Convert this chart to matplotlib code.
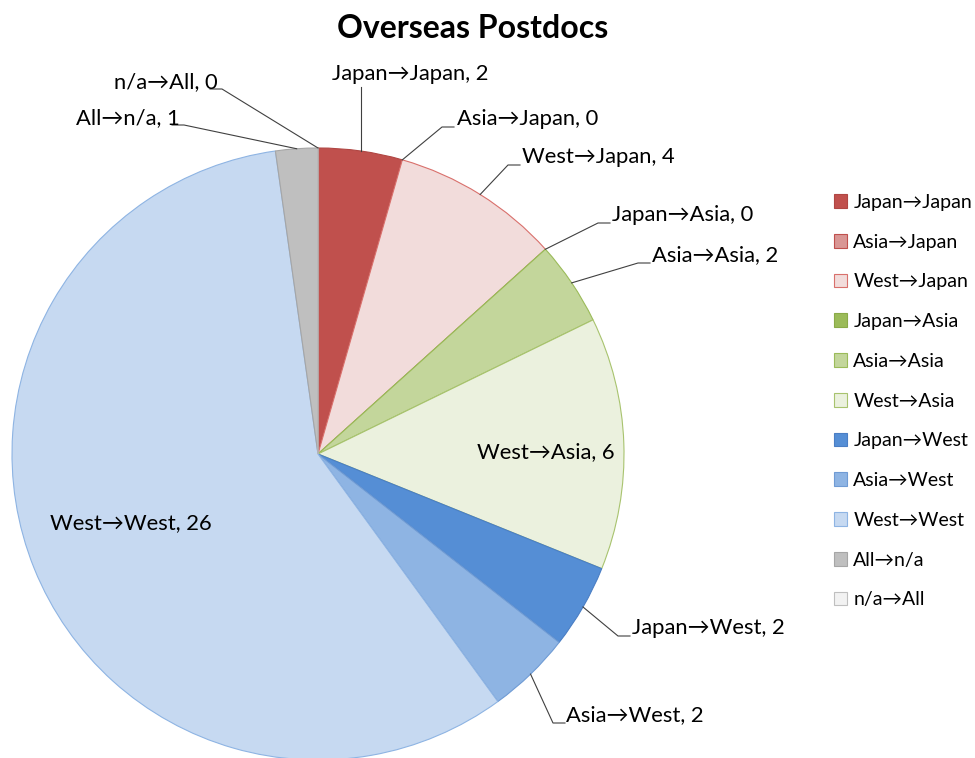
import matplotlib
matplotlib.use("Agg")
import matplotlib.pyplot as plt
import numpy as np

plt.rcParams['font.family'] = ['Lato', 'DejaVu Sans']

categories = ["Japan→Japan", "Asia→Japan", "West→Japan", "Japan→Asia", "Asia→Asia",
              "West→Asia", "Japan→West", "Asia→West", "West→West", "All→n/a", "n/a→All"]
values = [2, 0, 4, 0, 2, 6, 2, 2, 26, 1, 0]
colors = ["#C0504D", "#D99694", "#F2DCDB", "#9BBB59", "#C3D69B", "#EBF1DE",
          "#558ED5", "#8EB4E3", "#C6D9F1", "#BFBFBF", "#F2F2F2"]
edges = ["#B04643", "#C0504D", "#D9706C", "#8AAA48", "#9BBB59", "#A8C36E",
         "#4A7EC4", "#6F9BD4", "#8EB4E3", "#A6A6A6", "#BFBFBF"]

W, H = 975, 758
fig = plt.figure(figsize=(W / 100, H / 100), dpi=100)
ax = fig.add_axes([0, 0, 1, 1])

cx, cy, r = 318, H - 454, 306
wedges, _ = ax.pie(values, colors=colors, startangle=90, counterclock=False,
                   center=(cx, cy), radius=r, frame=True,
                   wedgeprops=dict(linewidth=0.8))
for w, ec in zip(wedges, edges):
    w.set_edgecolor(ec)
ax.set_xlim(0, W)
ax.set_ylim(0, H)
ax.set_aspect('equal')
ax.axis('off')

fs = 15.8
# label placements (pixel coords, top-left origin): (text x, text y, ha, elbow x)
label_pos = {
    0: (410, 74, 'center', None),
    1: (457, 119, 'left', 442),
    2: (522, 157, 'left', 508),
    3: (612, 215, 'left', 598),
    4: (652, 255, 'left', 638),
    5: (546, 452, 'center', 'inside'),
    6: (632, 628, 'left', 618),
    7: (566, 715, 'left', 553),
    8: (131, 523, 'center', 'inside'),
    9: (180, 118, 'right', 184),
    10: (218, 82, 'right', 222),
}
total = sum(values)
cum = np.cumsum([0] + values)
lc = '#404040'
for i, (name, v) in enumerate(zip(categories, values)):
    tx, ty, ha, ex = label_pos[i]
    ax.text(tx, H - ty, f"{name}, {v}", fontsize=fs, ha=ha, va='center', color='#000000')
    if ex == 'inside':
        continue
    mid = (cum[i] + cum[i + 1]) / 2 / total * 2 * np.pi
    px = cx + r * np.sin(mid)
    py = cy + r * np.cos(mid)
    if ex is None:
        ax.plot([px, px], [py, H - ty - 13], color=lc, lw=0.8)
    elif i in (9, 10):
        ly = H - ty - 7
        ax.plot([px, ex, ex - 12], [py, ly, ly], color=lc, lw=0.8)
    else:
        ly = H - ty - 8
        ax.plot([px, ex, ex + 12], [py, ly, ly], color=lc, lw=0.8)

ax.text(473, H - 29, "Overseas Postdocs", fontsize=23, fontweight='bold', ha='center', va='center')

leg = ax.legend(wedges, categories, loc='upper left', bbox_to_anchor=(826 / W, 1 - 186 / H),
                frameon=False, fontsize=14, handlelength=0.7, handleheight=0.7,
                handletextpad=0.3, labelspacing=1.17, borderaxespad=0)

fig.savefig("out.png", dpi=100)
